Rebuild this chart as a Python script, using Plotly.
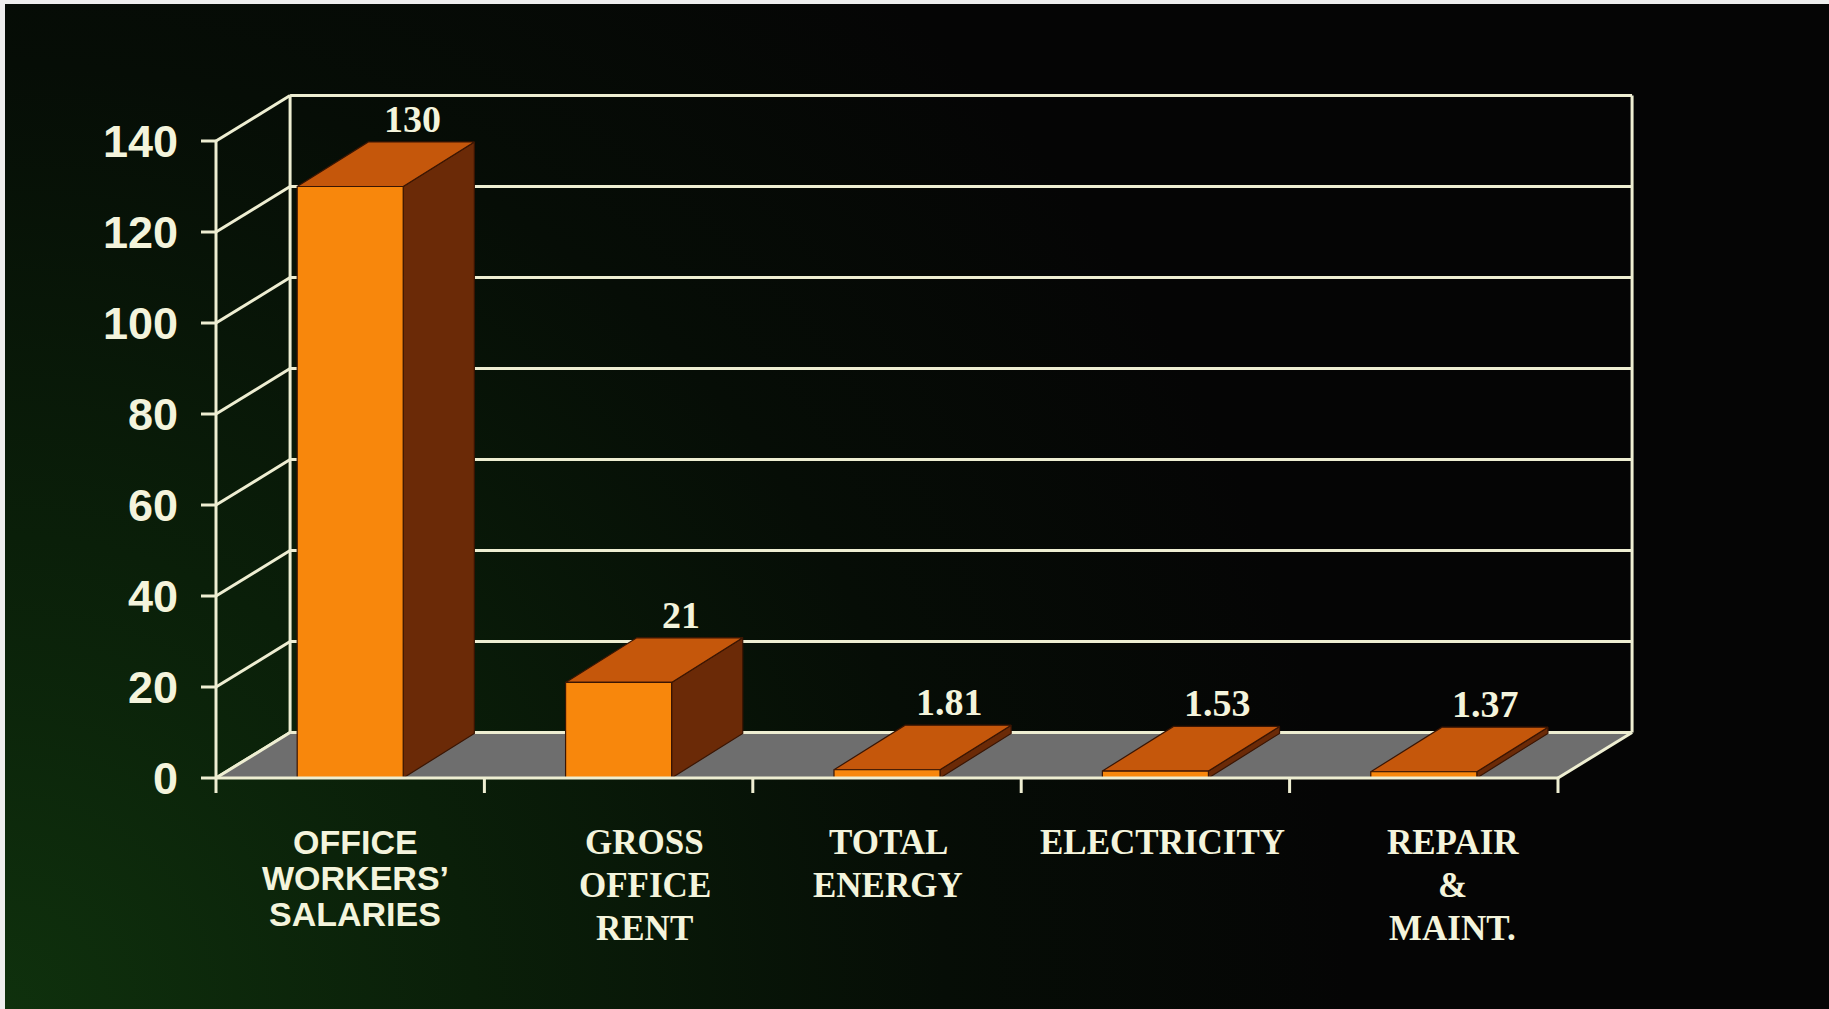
import base64
import plotly.graph_objects as go

# ---- data -------------------------------------------------------------
categories = [
    "OFFICE\nWORKERS’\nSALARIES",
    "GROSS\nOFFICE\nRENT",
    "TOTAL\nENERGY",
    "ELECTRICITY",
    "REPAIR\n&\nMAINT.",
]
values = [130, 21, 1.81, 1.53, 1.37]
value_labels = ["130", "21", "1.81", "1.53", "1.37"]
y_ticks = [0, 20, 40, 60, 80, 100, 120, 140]

# ---- styling / layout constants ----------------------------------------
W, H = 1829, 1009
PX_X = 268.4          # pixels per category slot
PX_Y = 4.55           # pixels per value unit
X0_PX, Y0_PX = 216, 778   # pixel position of the front-left corner (x=-0.5, y=0)

DX, DY = 0.276, 10.0      # depth of the box (category units, value units)
BAR_W = 0.395
BDX, BDY = 0.265, 9.8     # depth of each bar

LINE = "#eeeed2"
TEXT = "#f4f4dc"
FRONT = "#f8870c"
TOP = "#c5570b"
SIDE = "#6b2a07"
EDGE = "#3a1503"
FLOOR = "#6e6e6e"

SANS = "Liberation Sans, Arial, sans-serif"
SERIF = "Liberation Serif, Times New Roman, serif"
label_font = [SANS, SERIF, SERIF, SERIF, SERIF]
label_nudge_px = [5, 26, 1, 7, 29]

n = len(values)
xl, xr = -0.5, n - 0.5
top_v = y_ticks[-1]

x_range = [xl - X0_PX / PX_X, xl + (W - X0_PX) / PX_X]
y_range = [-(H - Y0_PX) / PX_Y, Y0_PX / PX_Y]

fig = go.Figure()


def seg(xs, ys, color=LINE, width=3):
    fig.add_trace(go.Scatter(x=xs, y=ys, mode="lines",
                             line=dict(color=color, width=width),
                             hoverinfo="skip", showlegend=False))


def poly(xs, ys, fill, edge=EDGE, width=1.2):
    fig.add_trace(go.Scatter(x=xs + [xs[0]], y=ys + [ys[0]], mode="lines",
                             fill="toself", fillcolor=fill,
                             line=dict(color=edge, width=width),
                             hoverinfo="skip", showlegend=False))


# back wall gridlines and left wall diagonals
for v in y_ticks:
    seg([xl + DX, xr + DX], [v + DY, v + DY])
    seg([xl, xl + DX], [v, v + DY])
seg([xl + DX, xl + DX], [DY, top_v + DY])
seg([xr + DX, xr + DX], [DY, top_v + DY])

# floor
poly([xl, xr, xr + DX, xl + DX], [0, 0, DY, DY], FLOOR, edge=FLOOR, width=0.5)
seg([xl + DX, xr + DX], [DY, DY])
seg([xl, xl + DX], [0, DY])

# bars: front, top and right-hand side faces
for i, v in enumerate(values):
    x0, x1 = i - BAR_W / 2, i + BAR_W / 2
    poly([x1, x1 + BDX, x1 + BDX, x1], [0, BDY, v + BDY, v], SIDE)
    poly([x0, x1, x1 + BDX, x0 + BDX], [v, v, v + BDY, v + BDY], TOP)
    poly([x0, x1, x1, x0], [0, 0, v, v], FRONT)

# front axis, baseline, right floor edge
seg([xl, xl], [0, top_v])
seg([xl, xr], [0, 0])
seg([xr, xr + DX], [0, DY])

# tick marks
tick_len_x = 15 / PX_X
tick_len_y = 15 / PX_Y
for v in y_ticks:
    seg([xl - tick_len_x, xl], [v, v])
for k in range(n + 1):
    b = xl + k
    seg([b, b], [0, -tick_len_y])

annotations = []
# y tick labels
for v in y_ticks:
    annotations.append(dict(x=xl, y=v, xref="x", yref="y", text=str(v),
                            showarrow=False, xanchor="right", yanchor="middle",
                            xshift=-36,
                            font=dict(family=SANS, size=45, color=TEXT,
                                      weight="bold")))

# value labels above each bar
for i, (v, t) in enumerate(zip(values, value_labels)):
    annotations.append(dict(x=i + 62 / PX_X, y=v + BDY, xref="x", yref="y",
                            text=t, showarrow=False, xanchor="center",
                            yanchor="bottom", yshift=0,
                            font=dict(family=SERIF, size=38, color=TEXT,
                                      weight="bold")))

# category labels, one annotation per line for tight line spacing
for i, lab in enumerate(categories):
    fam = label_font[i]
    size = 34 if fam == SANS else 35
    step = 36 if fam == SANS else 43
    for j, line in enumerate(lab.split("\n")):
        annotations.append(dict(x=i, y=0, xref="x", yref="y", text=line,
                                showarrow=False, xanchor="center",
                                yanchor="middle",
                                xshift=label_nudge_px[i],
                                yshift=-(64 + j * step),
                                font=dict(family=fam, size=size, color=TEXT,
                                          weight="bold")))

# dark backdrop with a green glow from the lower left
svg = f"""<svg xmlns='http://www.w3.org/2000/svg' width='{W}' height='{H}'>
<defs><radialGradient id='g' cx='0' cy='{H}' r='1350' gradientUnits='userSpaceOnUse'>
<stop offset='0' stop-color='#0f310d'/>
<stop offset='0.35' stop-color='#0a1f09'/>
<stop offset='0.7' stop-color='#060d06'/>
<stop offset='1' stop-color='#050505'/>
</radialGradient></defs>
<rect width='{W}' height='{H}' fill='url(#g)'/></svg>"""
bg_src = "data:image/svg+xml;base64," + base64.b64encode(svg.encode()).decode()

fig.update_layout(
    width=W, height=H,
    margin=dict(l=0, r=0, t=0, b=0),
    paper_bgcolor="#050505",
    plot_bgcolor="rgba(0,0,0,0)",
    showlegend=False,
    xaxis=dict(range=x_range, visible=False, fixedrange=True),
    yaxis=dict(range=y_range, visible=False, fixedrange=True),
    annotations=annotations,
    images=[dict(source=bg_src, xref="paper", yref="paper", x=0, y=1,
                 sizex=1, sizey=1, xanchor="left", yanchor="top",
                 sizing="stretch", layer="below")],
    shapes=[
        dict(type="rect", xref="paper", yref="paper", x0=0, x1=5 / W,
             y0=0, y1=1, fillcolor="#eeeeee", line=dict(width=0)),
        dict(type="rect", xref="paper", yref="paper", x0=0, x1=1,
             y0=1 - 4 / H, y1=1, fillcolor="#eeeeee", line=dict(width=0)),
    ],
)

fig.write_html("out.html")
